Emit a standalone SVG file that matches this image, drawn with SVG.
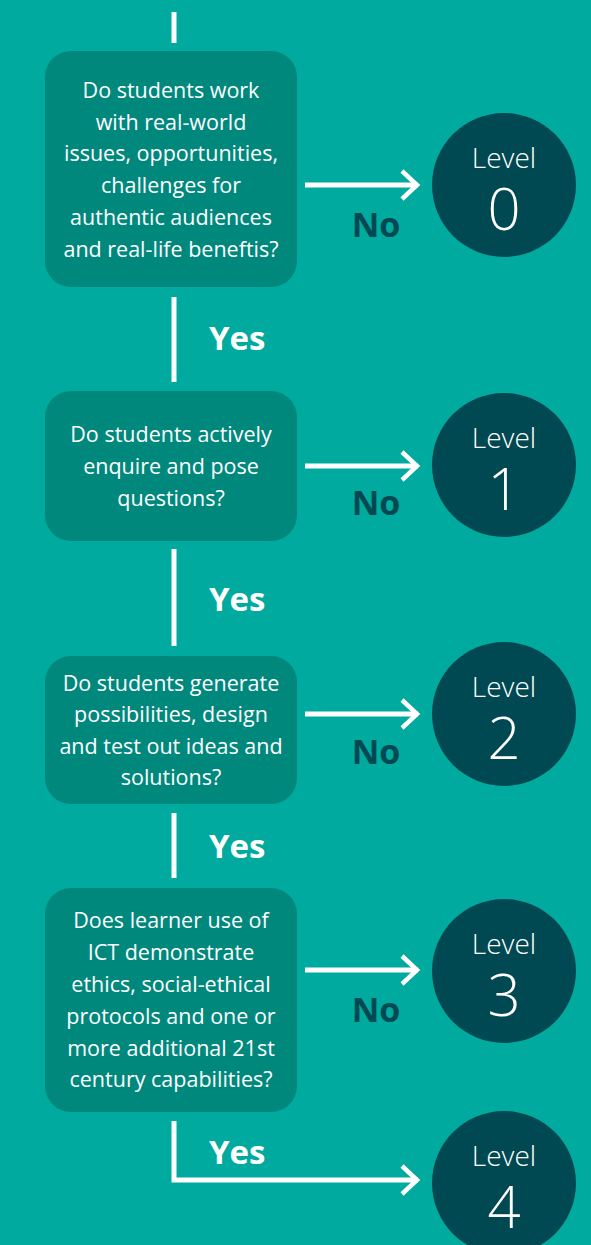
<svg xmlns="http://www.w3.org/2000/svg" width="591" height="1245" viewBox="0 0 591 1245">
<defs>
<style>
.box{fill:#00887D;}
.circ{fill:#004852;}
.q{font-family:"Open Sans","Noto Sans",sans-serif;font-size:21.5px;fill:#ffffff;text-anchor:middle;}
.lvl{font-family:"Open Sans","Noto Sans",sans-serif;font-weight:300;fill:#ffffff;text-anchor:middle;}
.no{font-family:"Open Sans","Noto Sans",sans-serif;font-weight:700;font-size:34px;fill:#004852;text-anchor:middle;}
.yes{font-family:"Open Sans","Noto Sans",sans-serif;font-weight:700;font-size:33px;fill:#ffffff;}
.ln{stroke:#ffffff;stroke-width:5;fill:none;}
.hd{stroke:#ffffff;stroke-width:4.5;fill:none;}
</style>
</defs>
<rect width="591" height="1245" fill="#00AA9E"/>
<g id="connectors">
<line class="ln" x1="174" y1="12" x2="174" y2="43"/>
<line class="ln" x1="174" y1="297" x2="174" y2="382"/>
<line class="ln" x1="174" y1="549" x2="174" y2="646"/>
<line class="ln" x1="174" y1="813" x2="174" y2="878"/>
<polyline class="ln" points="174,1121 174,1180 418,1180"/>
<path class="hd" d="M402,1166 L417,1180 L402,1194"/>
<line class="ln" x1="305" y1="185" x2="418" y2="185"/>
<path class="hd" d="M402,171 L417,185 L402,199"/>
<line class="ln" x1="305" y1="466" x2="418" y2="466"/>
<path class="hd" d="M402,452 L417,466 L402,480"/>
<line class="ln" x1="305" y1="714" x2="418" y2="714"/>
<path class="hd" d="M402,700 L417,714 L402,728"/>
<line class="ln" x1="305" y1="970" x2="418" y2="970"/>
<path class="hd" d="M402,956 L417,970 L402,984"/>
<text class="no" x="376" y="237">No</text>
<text class="no" x="376" y="515">No</text>
<text class="no" x="376" y="764">No</text>
<text class="no" x="376" y="1022">No</text>
<text class="yes" x="209" y="350">Yes</text>
<text class="yes" x="209" y="611">Yes</text>
<text class="yes" x="209" y="858">Yes</text>
<text class="yes" x="209" y="1164">Yes</text>
</g>
<g id="q1">
<rect class="box" x="45" y="51" width="252" height="236" rx="26"/>
<text class="q" x="171" y="98">Do students work</text>
<text class="q" x="171" y="130">with real-world</text>
<text class="q" x="171" y="161">issues, opportunities,</text>
<text class="q" x="171" y="193">challenges for</text>
<text class="q" x="171" y="225">authentic audiences</text>
<text class="q" x="171" y="257">and real-life beneftis?</text>
</g>
<g id="q2">
<rect class="box" x="45" y="391" width="252" height="150" rx="26"/>
<text class="q" x="171" y="442">Do students actively</text>
<text class="q" x="171" y="474">enquire and pose</text>
<text class="q" x="171" y="506">questions?</text>
</g>
<g id="q3">
<rect class="box" x="45" y="656" width="252" height="148" rx="26"/>
<text class="q" x="171" y="691">Do students generate</text>
<text class="q" x="171" y="722">possibilities, design</text>
<text class="q" x="171" y="754">and test out ideas and</text>
<text class="q" x="171" y="785">solutions?</text>
</g>
<g id="q4">
<rect class="box" x="45" y="888" width="252" height="224" rx="26"/>
<text class="q" x="171" y="928">Does learner use of</text>
<text class="q" x="171" y="960">ICT demonstrate</text>
<text class="q" x="171" y="992">ethics, social-ethical</text>
<text class="q" x="171" y="1024">protocols and one or</text>
<text class="q" x="171" y="1056">more additional 21st</text>
<text class="q" x="171" y="1087">century capabilities?</text>
</g>
<g id="l0">
<circle class="circ" cx="504" cy="185" r="72"/>
<text class="lvl" x="504" y="168" font-size="28">Level</text>
<text class="lvl" x="504" y="230" font-size="58">0</text>
</g>
<g id="l1">
<circle class="circ" cx="504" cy="465" r="72"/>
<text class="lvl" x="504" y="448" font-size="28">Level</text>
<text class="lvl" x="504" y="510" font-size="58">1</text>
</g>
<g id="l2">
<circle class="circ" cx="504" cy="714" r="72"/>
<text class="lvl" x="504" y="697" font-size="28">Level</text>
<text class="lvl" x="504" y="759" font-size="58">2</text>
</g>
<g id="l3">
<circle class="circ" cx="504" cy="971" r="72"/>
<text class="lvl" x="504" y="954" font-size="28">Level</text>
<text class="lvl" x="504" y="1016" font-size="58">3</text>
</g>
<g id="l4">
<circle class="circ" cx="504" cy="1183" r="72"/>
<text class="lvl" x="504" y="1166" font-size="28">Level</text>
<text class="lvl" x="504" y="1228" font-size="58">4</text>
</g>
</svg>
